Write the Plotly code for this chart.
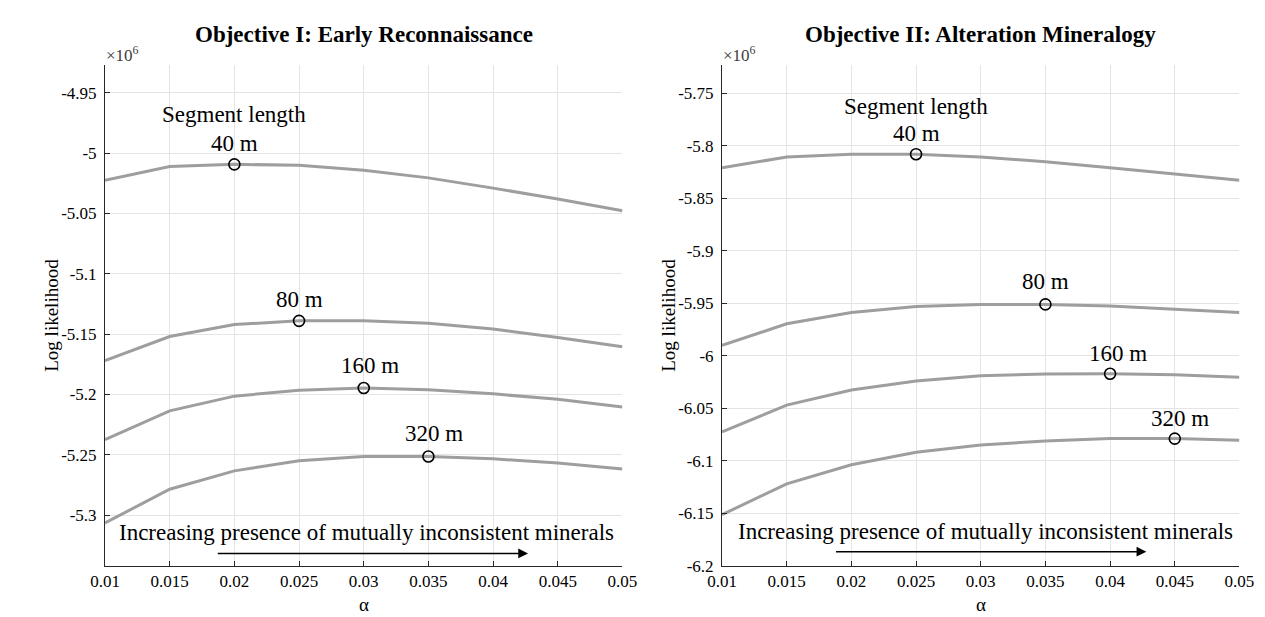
import plotly.graph_objects as go

alpha = [0.01, 0.015, 0.02, 0.025, 0.03, 0.035, 0.04, 0.045, 0.05]
x_ticks = [0.01, 0.015, 0.02, 0.025, 0.03, 0.035, 0.04, 0.045, 0.05]
x_ticktext = ["0.01", "0.015", "0.02", "0.025", "0.03", "0.035", "0.04", "0.045", "0.05"]

# Objective I (values in units of 1e6)
obj1_40 = [-5.0224, -5.0110, -5.0093, -5.0100, -5.0142, -5.0205, -5.0290, -5.0380, -5.0478]
obj1_80 = [-5.1720, -5.1520, -5.1420, -5.1390, -5.1390, -5.1410, -5.1457, -5.1527, -5.1605]
obj1_160 = [-5.2375, -5.2136, -5.2014, -5.1965, -5.1946, -5.1960, -5.1995, -5.2040, -5.2103]
obj1_320 = [-5.3065, -5.2785, -5.2633, -5.2549, -5.2514, -5.2514, -5.2533, -5.2568, -5.2617]
obj1_best = [0.02, 0.025, 0.03, 0.035]

# Objective II
obj2_40 = [-5.8208, -5.8106, -5.8079, -5.8079, -5.8106, -5.8150, -5.8208, -5.8267, -5.8327]
obj2_80 = [-5.9900, -5.9695, -5.9588, -5.9530, -5.9510, -5.9510, -5.9525, -5.9554, -5.9588]
obj2_160 = [-6.0725, -6.0469, -6.0325, -6.0240, -6.0190, -6.0172, -6.0170, -6.0180, -6.0205]
obj2_320 = [-6.1513, -6.1219, -6.1038, -6.0919, -6.0850, -6.0810, -6.0788, -6.0788, -6.0803]
obj2_best = [0.025, 0.035, 0.04, 0.045]

seg_labels = ["40 m", "80 m", "160 m", "320 m"]

y1_ticks = [-4.95, -5.0, -5.05, -5.1, -5.15, -5.2, -5.25, -5.3]
y1_text = ["-4.95", "-5", "-5.05", "-5.1", "-5.15", "-5.2", "-5.25", "-5.3"]
y2_ticks = [-5.75, -5.8, -5.85, -5.9, -5.95, -6.0, -6.05, -6.1, -6.15, -6.2]
y2_text = ["-5.75", "-5.8", "-5.85", "-5.9", "-5.95", "-6", "-6.05", "-6.1", "-6.15", "-6.2"]

titles = ["<b>Objective I: Early Reconnaissance</b>", "<b>Objective II: Alteration Mineralogy</b>"]
note = "Increasing presence of mutually inconsistent minerals"

FONT = "Liberation Serif, Times New Roman, serif"
LINE = "rgb(158,158,158)"
TXT = 23

fig = go.Figure()

panels = [
    (obj1_40, obj1_80, obj1_160, obj1_320, obj1_best, "x", "y"),
    (obj2_40, obj2_80, obj2_160, obj2_320, obj2_best, "x2", "y2"),
]
for p in panels:
    curves = p[:4]
    best = p[4]
    xa, ya = p[5], p[6]
    for c in curves:
        fig.add_trace(go.Scatter(x=alpha, y=c, mode="lines", xaxis=xa, yaxis=ya,
                                 line=dict(color=LINE, width=3), showlegend=False,
                                 hoverinfo="skip"))
    mx, my = [], []
    for c, b in zip(curves, best):
        mx.append(b)
        my.append(c[alpha.index(b)])
    fig.add_trace(go.Scatter(x=mx, y=my, mode="markers", xaxis=xa, yaxis=ya,
                             marker=dict(symbol="circle-open", size=11, color="black",
                                         line=dict(width=1.6, color="black")),
                             showlegend=False))

annotations = []
lab1 = [(0.02, -4.968, "Segment length"), (0.02, -4.992, seg_labels[0]), (0.025, -5.1213, seg_labels[1]),
        (0.0305, -5.176, seg_labels[2]), (0.0354, -5.2326, seg_labels[3])]
lab2 = [(0.025, -5.7626, "Segment length"), (0.025, -5.7884, seg_labels[0]), (0.035, -5.9296, seg_labels[1]),
        (0.0406, -5.9975, seg_labels[2]), (0.0454, -6.0594, seg_labels[3])]
for (x, y, t) in lab1:
    annotations.append(dict(x=x, y=y, xref="x", yref="y", text=t, showarrow=False,
                            font=dict(family=FONT, size=TXT, color="black")))
for (x, y, t) in lab2:
    annotations.append(dict(x=x, y=y, xref="x2", yref="y2", text=t, showarrow=False,
                            font=dict(family=FONT, size=TXT, color="black")))

annotations.append(dict(x=0.0302, y=-5.314, xref="x", yref="y", text=note, showarrow=False,
                        font=dict(family=FONT, size=TXT, color="black")))
annotations.append(dict(x=0.0304, y=-6.1669, xref="x2", yref="y2", text=note, showarrow=False,
                        font=dict(family=FONT, size=TXT, color="black")))
# arrows
annotations.append(dict(x=0.0427, y=-5.3318, ax=0.0186, ay=-5.3318, xref="x", yref="y",
                        axref="x", ayref="y", text="", showarrow=True, arrowhead=2,
                        arrowsize=1.3, arrowwidth=1.5, arrowcolor="black"))
annotations.append(dict(x=0.0428, y=-6.1866, ax=0.0187, ay=-6.1866, xref="x2", yref="y2",
                        axref="x2", ayref="y2", text="", showarrow=True, arrowhead=2,
                        arrowsize=1.3, arrowwidth=1.5, arrowcolor="black"))

dom1 = [84 / 1265, 614 / 1265]
dom2 = [716 / 1265, 1246 / 1265]
ydom = [(617 - 567) / 617, (617 - 58) / 617]

for dom, t in zip([dom1, dom2], titles):
    annotations.append(dict(x=(dom[0] + dom[1]) / 2, y=1 - 27 / 617, xref="paper", yref="paper",
                            xanchor="center", yanchor="middle",
                            text=t, showarrow=False, font=dict(family=FONT, size=23, color="black")))
    annotations.append(dict(x=dom[0] - 0.001, y=1 - 47 / 617, xref="paper", yref="paper",
                            xanchor="left", yanchor="middle", text="×10<sup>6</sup>", showarrow=False,
                            font=dict(family=FONT, size=17, color="rgb(60,60,60)")))
    annotations.append(dict(x=(dom[0] + dom[1]) / 2, y=1 - 606 / 617, xref="paper", yref="paper",
                            xanchor="center", yanchor="middle",
                            text="α", showarrow=False, font=dict(family=FONT, size=19, color="black")))
    annotations.append(dict(x=dom[0] - 55 / 1265, y=(ydom[0] + ydom[1]) / 2, xref="paper", yref="paper",
                            xanchor="center", yanchor="middle",
                            text="Log likelihood", textangle=-90, showarrow=False,
                            font=dict(family=FONT, size=19, color="black")))

axis_common = dict(showgrid=True, gridcolor="rgb(228,228,228)", gridwidth=1,
                   showline=True, linecolor="rgb(40,40,40)", linewidth=1,
                   ticks="inside", ticklen=5, tickcolor="rgb(40,40,40)", zeroline=False,
                   tickfont=dict(family=FONT, size=17, color="black"))

fig.update_layout(
    width=1265, height=617, margin=dict(l=0, r=0, t=0, b=0),
    paper_bgcolor="white", plot_bgcolor="white",
    annotations=annotations,
    xaxis=dict(domain=dom1, range=[0.01, 0.05], tickvals=x_ticks, ticktext=x_ticktext,
               anchor="y", **axis_common),
    yaxis=dict(domain=ydom, range=[-5.342, -4.927], tickvals=y1_ticks, ticktext=y1_text,
               anchor="x", ticklabelstandoff=4, **axis_common),
    xaxis2=dict(domain=dom2, range=[0.01, 0.05], tickvals=x_ticks, ticktext=x_ticktext,
                anchor="y2", **axis_common),
    yaxis2=dict(domain=ydom, range=[-6.2, -5.723], tickvals=y2_ticks, ticktext=y2_text,
                anchor="x2", ticklabelstandoff=4, **axis_common),
)

fig.write_html("out.html")
